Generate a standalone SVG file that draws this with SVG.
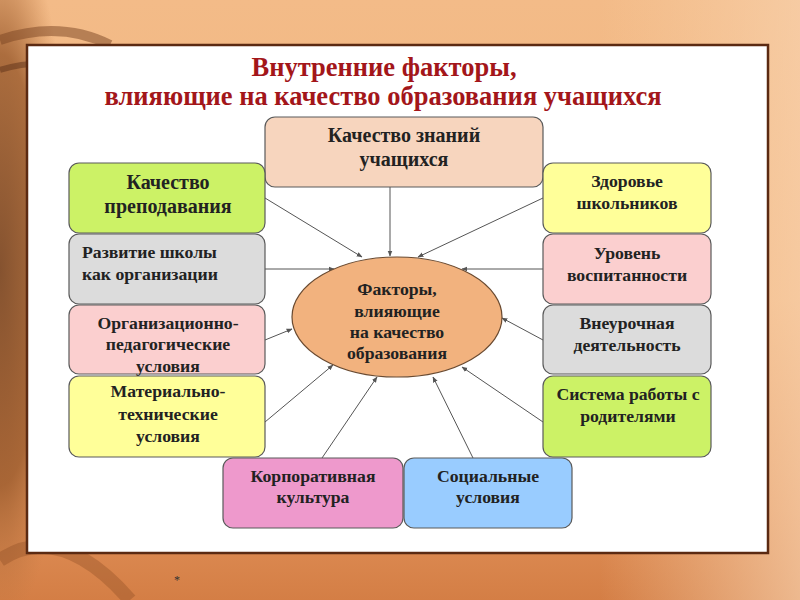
<svg xmlns="http://www.w3.org/2000/svg" width="800" height="600" viewBox="0 0 800 600">
<defs>
<linearGradient id="bg" x1="0" y1="0" x2="0" y2="1">
<stop offset="0" stop-color="#f3bb88"/>
<stop offset="0.5" stop-color="#f2b47c"/>
<stop offset="0.85" stop-color="#e09058"/>
<stop offset="1" stop-color="#d47e45"/>
</linearGradient>
<linearGradient id="bgr" x1="0" y1="0" x2="1" y2="0">
<stop offset="0" stop-color="#f7cfa6" stop-opacity="0"/>
<stop offset="1" stop-color="#f8d2ae" stop-opacity="0.7"/>
</linearGradient>
<radialGradient id="wood" cx="0.0" cy="0.45" r="0.6">
<stop offset="0" stop-color="#6a3a1c"/>
<stop offset="0.6" stop-color="#9a5a2c"/>
<stop offset="1" stop-color="#c07a44" stop-opacity="0"/>
</radialGradient>
<marker id="ah" viewBox="0 0 10 10" refX="9" refY="5" markerWidth="6" markerHeight="6" orient="auto" markerUnits="userSpaceOnUse">
<path d="M0,1 L10,5 L0,9 z" fill="#555"/>
</marker>
<style>
.box{stroke:#5a5a5a;stroke-width:1.2}
.t{font-family:"Liberation Serif","Times New Roman",serif;font-weight:bold;font-size:17.7px;fill:#222;text-anchor:middle}
.big{font-size:20px}
.tl{text-anchor:start}
.title{font-family:"Liberation Serif","Times New Roman",serif;font-weight:bold;font-size:26.5px;fill:#a3161a;text-anchor:middle}
.c{stroke:#555;stroke-width:1;fill:none;marker-end:url(#ah)}
</style>
</defs>
<rect x="0" y="0" width="800" height="600" fill="url(#bg)"/>
<rect x="600" y="0" width="200" height="600" fill="url(#bgr)"/>
<rect x="0" y="0" width="120" height="600" fill="url(#wood)" opacity="0.8"/>
<path d="M0,40 Q60,20 110,45" stroke="#7a4422" stroke-width="10" fill="none" opacity="0.5"/>
<path d="M0,70 Q50,55 90,75" stroke="#5c3018" stroke-width="6" fill="none" opacity="0.5"/>
<path d="M0,560 Q60,520 130,600" stroke="#8a4a22" stroke-width="14" fill="none" opacity="0.35"/>

<rect x="27" y="45" width="741" height="508" fill="#fff" stroke="#5b2a12" stroke-width="2.5"/>

<g id="title">
<text class="title" x="384" y="76">Внутренние факторы,</text>
<text class="title" x="383" y="105">влияющие на качество образования учащихся</text>
</g>

<g id="connectors">
<line class="c" x1="390" y1="187" x2="390" y2="256"/>
<line class="c" x1="265" y1="198" x2="362" y2="257"/>
<line class="c" x1="265" y1="269" x2="334" y2="269"/>
<line class="c" x1="543" y1="198" x2="418" y2="257"/>
<line class="c" x1="543" y1="269" x2="462" y2="269"/>
<line class="c" x1="543" y1="340" x2="502" y2="318"/>
<line class="c" x1="543" y1="422" x2="462" y2="367"/>
<line class="c" x1="473" y1="458" x2="433" y2="377"/>
<line class="c" x1="322" y1="458" x2="377" y2="377"/>
<line class="c" x1="265" y1="422" x2="333" y2="365"/>
<line class="c" x1="265" y1="340" x2="292" y2="329"/>
</g>

<g id="center">
<ellipse cx="397" cy="317" rx="105" ry="60" fill="#f2b27e" stroke="#6a4a30" stroke-width="1.2"/>
<text class="t" x="397" y="295" fill="#3a2414">Факторы,</text>
<text class="t" x="397" y="317">влияющие</text>
<text class="t" x="397" y="338">на качество</text>
<text class="t" x="397" y="359">образования</text>
</g>

<g id="knowledge">
<rect class="box" x="265" y="117" width="278" height="70" rx="10" fill="#f7d5be"/>
<text class="t big" x="404" y="142">Качество знаний</text>
<text class="t big" x="404" y="166">учащихся</text>
</g>

<g id="teaching">
<rect class="box" x="69" y="163" width="196" height="70" rx="10" fill="#ccf266"/>
<text class="t big" x="168" y="189">Качество</text>
<text class="t big" x="168" y="213">преподавания</text>
</g>

<g id="development">
<rect class="box" x="69" y="234" width="196" height="70" rx="10" fill="#dcdcdc"/>
<text class="t tl" x="82" y="258">Развитие школы</text>
<text class="t tl" x="82" y="280">как организации</text>
</g>

<g id="orgped">
<rect class="box" x="69" y="305" width="196" height="69" rx="10" fill="#fbcfcf"/>
<text class="t" x="168" y="329">Организационно-</text>
<text class="t" x="168" y="350">педагогические</text>
<text class="t" x="168" y="372">условия</text>
</g>

<g id="material">
<rect class="box" x="69" y="376" width="196" height="81" rx="10" fill="#ffff99"/>
<text class="t" x="168" y="397">Материально-</text>
<text class="t" x="168" y="420">технические</text>
<text class="t" x="168" y="442">условия</text>
</g>

<g id="corporate">
<rect class="box" x="223" y="458" width="180" height="70" rx="10" fill="#ee99cc"/>
<text class="t" x="313" y="482">Корпоративная</text>
<text class="t" x="313" y="503">культура</text>
</g>

<g id="social">
<rect class="box" x="404" y="458" width="168" height="70" rx="10" fill="#99ccff"/>
<text class="t" x="488" y="482">Социальные</text>
<text class="t" x="488" y="503">условия</text>
</g>

<g id="health">
<rect class="box" x="543" y="163" width="168" height="70" rx="10" fill="#ffff99"/>
<text class="t" x="627" y="187">Здоровье</text>
<text class="t" x="627" y="209">школьников</text>
</g>

<g id="upbringing">
<rect class="box" x="543" y="234" width="168" height="70" rx="10" fill="#fbcfcf"/>
<text class="t" x="627" y="259">Уровень</text>
<text class="t" x="627" y="281">воспитанности</text>
</g>

<g id="extracurricular">
<rect class="box" x="543" y="305" width="168" height="69" rx="10" fill="#dcdcdc"/>
<text class="t" x="627" y="329">Внеурочная</text>
<text class="t" x="627" y="351">деятельность</text>
</g>

<g id="parents">
<rect class="box" x="543" y="376" width="168" height="81" rx="10" fill="#ccf266"/>
<text class="t" x="628" y="400">Система работы с</text>
<text class="t" x="628" y="422">родителями</text>
</g>

<text x="177" y="584" font-family="Liberation Serif, serif" font-size="12" fill="#333" text-anchor="middle">*</text>
</svg>
